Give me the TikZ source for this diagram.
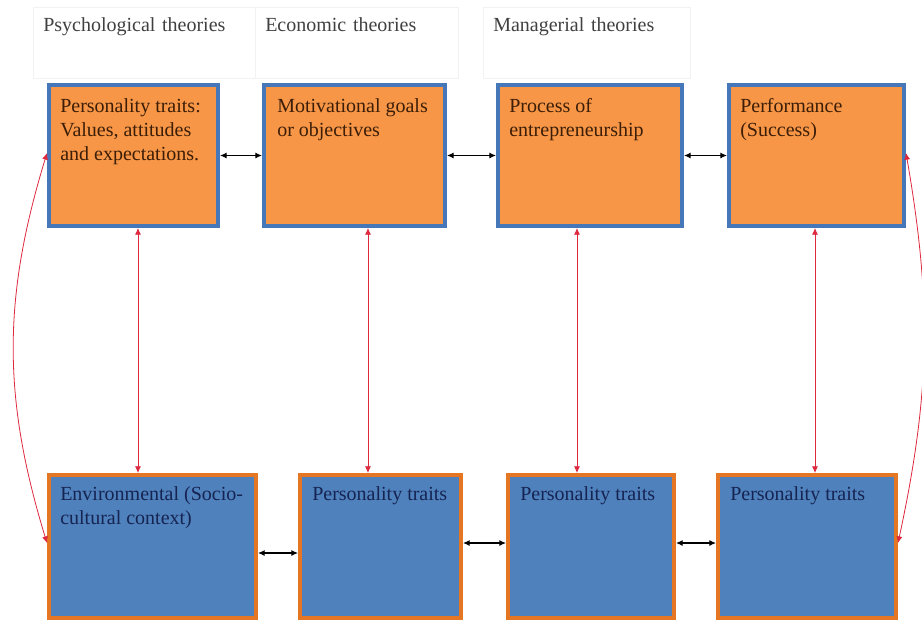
\documentclass[tikz,border=0pt]{standalone}
\usepackage{fontspec}
\setmainfont{Liberation Serif}
\usetikzlibrary{arrows.meta,positioning,calc}

\definecolor{fillorange}{RGB}{247,150,70}
\definecolor{fillblue}{RGB}{79,129,189}
\definecolor{lineblue}{RGB}{70,120,185}
\definecolor{lineorange}{RGB}{228,118,36}
\definecolor{linkred}{RGB}{222,40,62}
\definecolor{txtbrown}{RGB}{60,30,8}
\definecolor{txtnavy}{RGB}{22,36,82}
\definecolor{hdrgray}{RGB}{64,64,64}

\tikzset{
  topbox/.style={draw=lineblue, fill=fillorange, line width=3pt, minimum height=105.75pt},
  lowbox/.style={draw=lineorange, fill=fillblue, line width=3pt, minimum height=107.25pt},
  boxtxt/.style={anchor=base west, inner sep=0pt, align=left, font=\fontsize{15}{18}\selectfont},
  hdr/.style={draw=black!5, anchor=north west, align=left, inner xsep=7.5pt, inner ysep=0pt,
    text height=18pt, text depth=35.25pt, text=hdrgray, font=\fontsize{15}{18}\selectfont},
  twoway/.style={{Latex[length=5pt,width=4.5pt]}-{Latex[length=5pt,width=4.5pt]}, line width=0.8pt},
  link/.style={linkred, line width=0.6pt, {Latex[length=5pt,width=4.5pt]}-{Latex[length=5pt,width=4.5pt]}},
}

\begin{document}
\begin{tikzpicture}[x=0.75pt,y=0.75pt,yscale=-1,xscale=1]
\useasboundingbox (0,0) rectangle (922,622);
% Headers
\node[hdr, text width=151.5pt] (psy) at (33,7) {Psychological theories};
\node[hdr, text width=137.25pt] (eco) at (255,7) {Economic theories};
\node[hdr, text width=140.25pt] (man) at (483,7) {Managerial theories};
% Top row
\node[topbox, minimum width=126.75pt] (p1) at (133.5,155.5) {};
\node[topbox, minimum width=135.75pt] (p2) at (354.5,155.5) {};
\node[topbox, minimum width=138pt] (p3) at (590,155.5) {};
\node[topbox, minimum width=131.25pt] (p4) at (816.5,155.5) {};
% Bottom row
\node[lowbox, minimum width=155.25pt] (e1) at (152.5,546.5) {};
\node[lowbox, minimum width=120.75pt] (e2) at (380.5,546.5) {};
\node[lowbox, minimum width=124.5pt] (e3) at (591,546.5) {};
\node[lowbox, minimum width=133.5pt] (e4) at (807,546.5) {};
% Text Node (base = last line)
\node[boxtxt, text=txtbrown] (t1) at ($(p1.north west)+(13,77)$) {Personality traits:\\Values, attitudes\\and expectations.};
\node[boxtxt, text=txtbrown] (t2) at ($(p2.north west)+(15,53)$) {Motivational goals\\or objectives};
\node[boxtxt, text=txtbrown] (t3) at ($(p3.north west)+(13,53)$) {Process of\\entrepreneurship};
\node[boxtxt, text=txtbrown] (t4) at ($(p4.north west)+(13,53)$) {Performance\\(Success)};
\node[boxtxt, text=txtnavy] (b1) at ($(e1.north west)+(13,51)$) {Environmental (Socio-\\cultural context)};
\node[boxtxt, text=txtnavy] (b2) at ($(e2.north west)+(14,27)$) {Personality traits};
\node[boxtxt, text=txtnavy] (b3) at ($(e3.north west)+(14,27)$) {Personality traits};
\node[boxtxt, text=txtnavy] (b4) at ($(e4.north west)+(14,27)$) {Personality traits};
% Black links
\draw[twoway] (p1) -- (p2);
\draw[twoway] (p2) -- (p3);
\draw[twoway] (p3) -- (p4);
\draw[twoway] ($(e1.east)+(0,6.5)$) -- ($(e2.west)+(0,6.5)$);
\draw[twoway] ($(e2.east)+(0,-3.5)$) -- ($(e3.west)+(0,-3.5)$);
\draw[twoway] ($(e3.east)+(0,-3.5)$) -- ($(e4.west)+(0,-3.5)$);
% Red links
\draw[link] ($(p1.south)+(4.5,0)$) -- ($(e1.north)+(-14.5,0)$);
\draw[link] ($(p2.south)+(13.5,0)$) -- ($(e2.north)+(-12.5,0)$);
\draw[link] ($(p3.south)+(-13,0)$) -- ($(e3.north)+(-14,0)$);
\draw[link] ($(p4.south)+(-1.5,0)$) -- ($(e4.north)+(8,0)$);
\draw[link] ($(p1.west)+(0,-2.5)$) to[bend left=17] ($(e1.west)+(0,-3.5)$);
\draw[link] ($(p4.east)+(0,-2.5)$) to[bend right=11] ($(e4.east)+(0,-3.5)$);
\end{tikzpicture}
\end{document}
